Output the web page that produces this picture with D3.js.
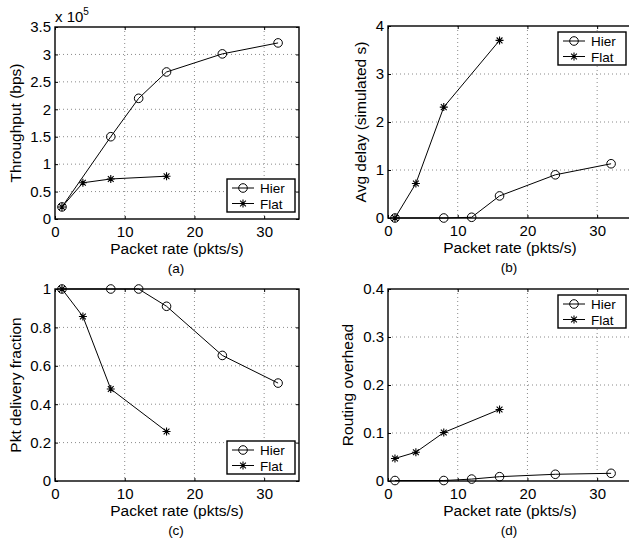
<!DOCTYPE html>
<html>
    <head>
        <meta charset="utf-8">
        <title>hier vs flat</title>
        <style>
            body { margin: 0; background: white; }
            svg { display: block; font-family: "Liberation Sans", Arial, sans-serif; }
            .grid line { stroke: #8a8a8a; stroke-dasharray: 1,3; }
            .axis path, .axis line { stroke: black; }
            .axis text { font-size: 15px; fill: black; }
            .series { fill: none; stroke: black; stroke-width: 1; }
        </style>
        <script src="https://d3js.org/d3.v7.min.js"></script>
    </head>
    <body>
        <svg id='main' width="629" height="539"></svg>
    <script>

        // packet rates used by each scheme
        let rateHier = [1, 8, 12, 16, 24, 32];
        let rateFlat = [1, 4, 8, 16];
        let xTicks = [0, 10, 20, 30];

        // (a) throughput, in units of 10^5 bps
        let throughputHier = [0.22, 1.50, 2.20, 2.68, 3.01, 3.21];
        let throughputFlat = [0.22, 0.66, 0.73, 0.78];
        let throughputTicks = [0, 0.5, 1, 1.5, 2, 2.5, 3, 3.5];

        // (b) avg delay (simulated s)
        let delayHier = [0, 0, 0.015, 0.46, 0.9, 1.13];
        let delayFlat = [0, 0.72, 2.31, 3.7];
        let delayTicks = [0, 1, 2, 3, 4];

        // (c) packet delivery fraction
        let deliveryHier = [1, 1, 1, 0.91, 0.654, 0.51];
        let deliveryFlat = [1, 0.857, 0.479, 0.258];
        let deliveryTicks = [0, 0.2, 0.4, 0.6, 0.8, 1];

        // (d) routing overhead
        let overheadHier = [0.001, 0.001, 0.004, 0.009, 0.014, 0.016];
        let overheadFlat = [0.047, 0.060, 0.101, 0.149];
        let overheadTicks = [0, 0.1, 0.2, 0.3, 0.4];

        let seriesNames = ['Hier', 'Flat'];
        let xLabel = 'Packet rate (pkts/s)';

        let svg = d3.select('svg#main');

        let panels = [
            { box: [55, 27, 299, 219], yMax: 3.5, yTicks: throughputTicks, hier: throughputHier, flat: throughputFlat,
              yLabel: 'Throughput (bps)', yLabelX: 21, caption: '(a)', legend: 'bottom', exponent: true },
            { box: [388, 26, 632, 218], yMax: 4, yTicks: delayTicks, hier: delayHier, flat: delayFlat,
              yLabel: 'Avg delay (simulated s)', yLabelX: 366, caption: '(b)', legend: 'top' },
            { box: [55, 289, 299, 481], yMax: 1, yTicks: deliveryTicks, hier: deliveryHier, flat: deliveryFlat,
              yLabel: 'Pkt delivery fraction', yLabelX: 21, caption: '(c)', legend: 'bottom' },
            { box: [388, 289, 632, 481], yMax: 0.4, yTicks: overheadTicks, hier: overheadHier, flat: overheadFlat,
              yLabel: 'Routing overhead', yLabelX: 353, caption: '(d)', legend: 'top' }
        ];

        function drawStar(g, x, y) {
            let r = 4, d = 2.9;
            let p = 'M' + (x - r) + ',' + y + 'h' + (2 * r)
                  + 'M' + x + ',' + (y - r) + 'v' + (2 * r)
                  + 'M' + (x - d) + ',' + (y - d) + 'l' + (2 * d) + ',' + (2 * d)
                  + 'M' + (x - d) + ',' + (y + d) + 'l' + (2 * d) + ',' + (-2 * d);
            g.append('path').attr('d', p).attr('stroke', 'black').attr('stroke-width', 1.1).attr('fill', 'none');
        }

        function drawCircle(g, x, y) {
            g.append('circle').attr('cx', x).attr('cy', y).attr('r', 4.3)
                .attr('fill', 'none').attr('stroke', 'black').attr('stroke-width', 1);
        }

        for (let p of panels) {
            let [x0, y0, x1, y1] = p.box;
            let x = d3.scaleLinear().domain([0, 35]).range([x0, x1]);
            let y = d3.scaleLinear().domain([0, p.yMax]).range([y1, y0]);
            let g = svg.append('g');

            // dotted grid
            let grid = g.append('g').attr('class', 'grid');
            grid.selectAll('.gx').data(xTicks.filter(t => t > 0)).enter()
                .append('line')
                .attr('x1', d => x(d)).attr('x2', d => x(d))
                .attr('y1', y0).attr('y2', y1);
            grid.selectAll('.gy').data(p.yTicks.filter(t => t > 0 && t < p.yMax)).enter()
                .append('line')
                .attr('x1', x0).attr('x2', x1)
                .attr('y1', d => y(d)).attr('y2', d => y(d));

            // axes, ticks pointing inwards
            g.append('g').attr('class', 'axis')
                .attr('transform', 'translate(0,' + y1 + ')')
                .call(d3.axisBottom(x).tickValues(xTicks).tickSize(-3).tickPadding(7).tickSizeOuter(0));
            g.append('g').attr('class', 'axis')
                .attr('transform', 'translate(0,' + y0 + ')')
                .call(d3.axisTop(x).tickValues(xTicks).tickSize(-3).tickSizeOuter(0).tickFormat(''));
            g.append('g').attr('class', 'axis')
                .attr('transform', 'translate(' + x0 + ',0)')
                .call(d3.axisLeft(y).tickValues(p.yTicks).tickSize(-3).tickPadding(4).tickSizeOuter(0)
                    .tickFormat(d3.format('~g')));
            g.append('g').attr('class', 'axis')
                .attr('transform', 'translate(' + x1 + ',0)')
                .call(d3.axisRight(y).tickValues(p.yTicks).tickSize(-3).tickSizeOuter(0).tickFormat(''));
            g.selectAll('.axis .domain').remove();

            g.append('rect')
                .attr('x', x0).attr('y', y0).attr('width', x1 - x0).attr('height', y1 - y0)
                .attr('fill', 'none').attr('stroke', 'black').attr('stroke-width', 1.4);

            // series
            let line = d3.line().x(d => x(d[0])).y(d => y(d[1]));
            let hierPts = d3.zip(rateHier, p.hier);
            let flatPts = d3.zip(rateFlat, p.flat);
            g.append('path').attr('class', 'series').attr('d', line(hierPts));
            g.append('path').attr('class', 'series').attr('d', line(flatPts));
            hierPts.forEach(d => drawCircle(g, x(d[0]), y(d[1])));
            flatPts.forEach(d => drawStar(g, x(d[0]), y(d[1])));

            // labels
            g.append('text')
                .attr('transform', 'translate(' + p.yLabelX + ',' + ((y0 + y1) / 2) + ') rotate(-90)')
                .attr('text-anchor', 'middle').attr('font-size', 15.5)
                .text(p.yLabel);
            g.append('text')
                .attr('x', (x0 + x1) / 2).attr('y', y1 + 35)
                .attr('text-anchor', 'middle').attr('font-size', 15.5)
                .text(xLabel);
            g.append('text')
                .attr('x', (x0 + x1) / 2 - 1).attr('y', y1 + 54)
                .attr('text-anchor', 'middle').attr('font-size', 13.5)
                .text(p.caption);

            if (p.exponent) {
                let t = g.append('text').attr('x', x0).attr('y', y0 - 5).attr('font-size', 15);
                t.append('tspan').text('x 10');
                t.append('tspan').attr('font-size', 10).attr('dy', -7).text('5');
            }

            // legend
            let lw = 68, lh = 33;
            let lx = (p.legend === 'bottom' ? 299 : 632) - 4 - lw + (p.legend === 'bottom' ? 0 : -2);
            let ly = p.legend === 'bottom' ? y1 - 7 - lh : y0 + 6;
            let lg = g.append('g');
            lg.append('rect')
                .attr('x', lx).attr('y', ly).attr('width', lw).attr('height', lh)
                .attr('fill', 'white').attr('stroke', 'black').attr('stroke-width', 1.4);
            seriesNames.forEach((name, i) => {
                let cy = ly + 9 + i * 15.5;
                lg.append('line')
                    .attr('x1', lx + 5).attr('x2', lx + 27).attr('y1', cy).attr('y2', cy)
                    .attr('stroke', 'black');
                if (i === 0) drawCircle(lg, lx + 16, cy); else drawStar(lg, lx + 16, cy);
                lg.append('text')
                    .attr('x', lx + 33).attr('y', cy + 5)
                    .attr('font-size', 13.5)
                    .text(name);
            });
        }

    </script>
    </body>
</html>
